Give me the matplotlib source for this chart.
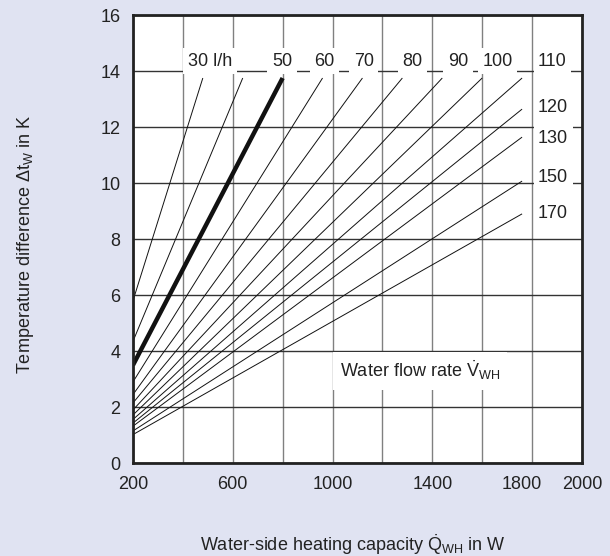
import matplotlib.pyplot as plt
import matplotlib.transforms as mtransforms

plt.rcParams['font.family'] = ['Liberation Sans', 'DejaVu Sans']
plt.rcParams['mathtext.fontset'] = 'custom'
plt.rcParams['mathtext.rm'] = 'Liberation Sans'
plt.rcParams['mathtext.it'] = 'Liberation Sans:italic'

flow_rates = [30, 40, 50, 60, 70, 80, 90, 100, 110, 120, 130, 150, 170]
q_start = [200, 200, 200, 200, 200, 200, 200, 200, 200, 200, 200, 200, 200]
dt_start = [5.8, 4.35, 3.5, 2.9, 2.45, 2.15, 1.9, 1.72, 1.56, 1.43, 1.32, 1.15, 1.02]
q_end = [480, 640, 800, 960, 1120, 1280, 1440, 1600, 1760, 1760, 1760, 1760, 1760]
dt_end = [13.75, 13.75, 13.75, 13.75, 13.75, 13.75, 13.75, 13.75, 13.75, 12.64, 11.64, 10.07, 8.9]

# labels along the top row and right column
top_labels = ["30 l/h", "50", "60", "70", "80", "90", "100", "110"]
top_label_q = [420, 757, 926, 1086, 1279, 1463, 1600, 1824]
right_labels = ["120", "130", "150", "170"]
right_label_dt = [12.7, 11.6, 10.2, 8.93]

x_grid = list(range(200, 2001, 200))
x_tick_labels = {200: "200", 600: "600", 1000: "1000", 1400: "1400", 1800: "1800", 2000: "2000"}
y_ticks = list(range(0, 17, 2))

fs = 13
bg = "#E0E3F2"
fig = plt.figure(figsize=(6.1, 5.56), dpi=100, facecolor=bg)
ax = fig.add_axes([0.218, 0.167, 0.736, 0.806])
ax.set_facecolor("white")

for x in x_grid:
    ax.axvline(x, color="#808080", lw=1.0, zorder=1)
for y in y_ticks:
    ax.axhline(y, color="#333333", lw=1.0, zorder=1)

for v, x0, y0, x1, y1 in zip(flow_rates, q_start, dt_start, q_end, dt_end):
    lw = 3.2 if v == 50 else 0.7
    ax.plot([x0, x1], [y0, y1], color="#111111", lw=lw, zorder=2,
            solid_capstyle="butt")

box = dict(boxstyle="square,pad=0.25", fc="white", ec="none")
for lab, q in zip(top_labels, top_label_q):
    ax.text(q, 14.35, lab, fontsize=fs, ha="left", va="center",
            color="#222222", bbox=box, zorder=3)
for lab, dt in zip(right_labels, right_label_dt):
    ax.text(1824, dt, lab, fontsize=fs, ha="left", va="center",
            color="#222222", bbox=box, zorder=3)

ax.text(1030, 3.3, r"Water flow rate $\dot{\mathrm{V}}_{\mathrm{WH}}$", fontsize=fs,
        ha="left", va="center", color="#222222",
        bbox=dict(boxstyle="square,pad=0.4", fc="white", ec="none"), zorder=3)

ax.set_xlim(200, 2000)
ax.set_ylim(0, 16)
ax.set_xticks(x_grid)
ax.set_xticklabels([x_tick_labels.get(x, "") for x in x_grid])
ax.set_yticks(y_ticks)
ax.tick_params(length=0, labelsize=fs, colors="#222222")
ax.tick_params(axis="x", pad=9)
ax.tick_params(axis="y", pad=9)

# nudge 1800 left so it does not crowd 2000
for t in ax.get_xticklabels():
    if t.get_text() == "1800":
        t.set_transform(t.get_transform() + mtransforms.ScaledTranslation(-0.1, 0, fig.dpi_scale_trans))

for s in ax.spines.values():
    s.set_linewidth(2.0)
    s.set_color("#222222")
    s.set_zorder(4)

fig.text(0.041, 0.561, r"Temperature difference $\Delta\mathrm{t}_{\mathrm{W}}$ in K",
         rotation=90, ha="center", va="center", fontsize=fs, color="#222222")
fig.text(0.579, 0.02, r"Water-side heating capacity $\dot{\mathrm{Q}}_{\mathrm{WH}}$ in W",
         ha="center", va="center", fontsize=fs, color="#222222")

fig.savefig("out.png", dpi=100, facecolor=bg)
